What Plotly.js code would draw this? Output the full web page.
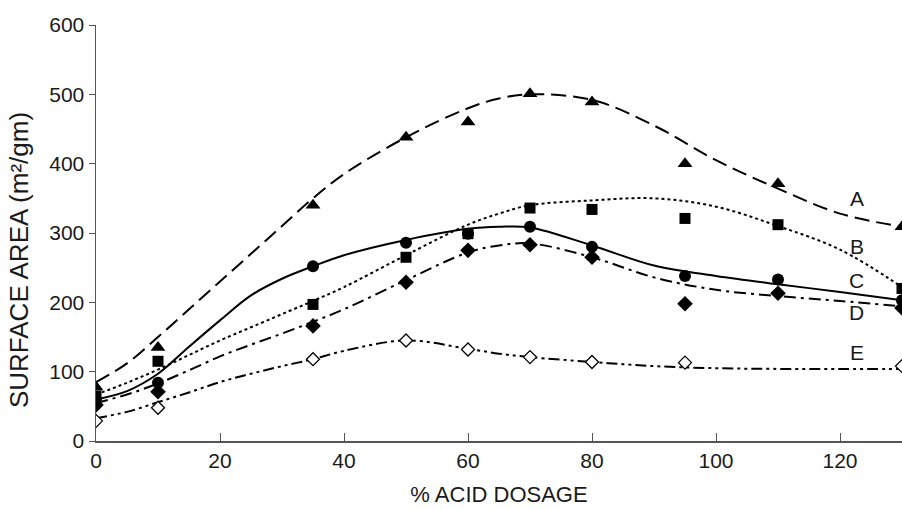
<!DOCTYPE html>
<html><head><meta charset="utf-8">
<script src="https://cdn.plot.ly/plotly-3.0.1.min.js"></script>
<style>html,body{margin:0;padding:0;background:#fff}#c{width:902px;height:509px}</style>
</head><body><div id="c"></div>
<script>
// Measured points
const dosage = [0, 10, 35, 50, 60, 70, 80, 95, 110, 130];
const ptsA = [78, 135, 340, 438, 460, 501, 489, 400, 371, 309];
const ptsB = [65, 115, 197, 265, 299, 336, 334, 321, 312, 220];
const ptsC = [60, 84, 252, 286, 299, 309, 280, 238, 233, 203];
const ptsD = [52, 71, 166, 229, 275, 283, 265, 198, 213, 192];
const ptsE = [29, 48, 118, 145, 132, 121, 114, 113, null, 108];
// Fitted curves
const fitX  = [0, 5, 10, 15, 20, 25, 30, 35, 40, 50, 60, 65, 70, 80, 90, 100, 110, 120, 130];
const fitA  = [85, 112, 150, 190, 230, 270, 310, 350, 385, 438, 480, 494, 500, 492, 455, 405, 364, 328, 309];
const fitB  = [67, 84, 103, 124, 145, 164, 183, 202, 222, 268, 312, 328, 340, 347, 350, 338, 310, 276, 222];
const fitC  = [60, 72, 97, 136, 174, 210, 234, 252, 268, 290, 306, 309, 308, 282, 253, 238, 226, 215, 203];
const fitD  = [55, 67, 83, 102, 122, 139, 155, 172, 190, 232, 272, 282, 285, 265, 236, 218, 209, 202, 194];
const fitE  = [33, 42, 56, 70, 85, 97, 108, 118, 130, 145, 133, 126, 121, 114, 108, 105, 104, 104, 104];
const labels = ["A", "B", "C", "D", "E"];
const labelX = [122.7, 122.7, 122.7, 122.7, 122.7];
const labelY = [350, 280, 231, 185, 128];
const yTitle = 'SURFACE AREA (m²/gm)';
const xTitle = '% ACID DOSAGE';

const dashes = ["15px,7px", "dot", "solid", "12px,5px,3px,5px", "11px,4px,3px,4px,3px,4px"];
const symbols = ["triangle-up", "square", "circle", "diamond", "diamond"];
const sizes = [13, 11, 12, 12, 10];
const pts = [ptsA, ptsB, ptsC, ptsD, ptsE];
const fits = [fitA, fitB, fitC, fitD, fitE];

const traces = [];
for (let i = 0; i < 5; i++) {
  traces.push({x: fitX, y: fits[i], mode: 'lines', type: 'scatter',
    line: {color: '#000', width: 2, dash: dashes[i], shape: 'spline', smoothing: 1}, hoverinfo: 'skip'});
}
for (let i = 0; i < 5; i++) {
  traces.push({x: dosage, y: pts[i], mode: 'markers', type: 'scatter',
    marker: {symbol: symbols[i], size: sizes[i], color: i === 4 ? '#fff' : '#000',
      line: {color: '#000', width: i === 4 ? 1.3 : 0}}});
}

const fam = 'Liberation Sans, Arial, sans-serif';
const tf = {family: fam, size: 21, color: '#1a1a1a'};
const annots = labels.map((t, i) => ({x: labelX[i], y: labelY[i], text: t, showarrow: false,
    font: {size: 21, color: '#1a1a1a'}, xanchor: 'center', yanchor: 'middle'}));
annots.push({xref: 'paper', yref: 'paper', x: -0.0955, y: 0.435, text: yTitle, textangle: -90,
  showarrow: false, xanchor: 'center', yanchor: 'middle', font: {family: fam, size: 26, color: '#1a1a1a'}});
const layout = {
  width: 902, height: 509,
  margin: {l: 96, r: 0, t: 25, b: 68},
  showlegend: false,
  paper_bgcolor: '#fff', plot_bgcolor: '#fff',
  font: {family: fam, size: 21, color: '#1a1a1a'},
  xaxis: {range: [0, 130], tickvals: [0, 20, 40, 60, 80, 100, 120], ticks: 'inside', ticklen: 8, tickcolor: '#555',
    tickfont: tf, showline: true, linecolor: '#555', linewidth: 1.5, showgrid: false, zeroline: false,
    title: {text: xTitle, font: {size: 22}, standoff: 16}},
  yaxis: {range: [0, 600], dtick: 100, ticks: 'outside', ticklen: 6, tickcolor: '#555',
    tickfont: tf, showline: true, linecolor: '#555', linewidth: 1.5, showgrid: false, zeroline: false},
  annotations: annots
};
Plotly.newPlot('c', traces, layout, {staticPlot: true});
</script></body></html>
